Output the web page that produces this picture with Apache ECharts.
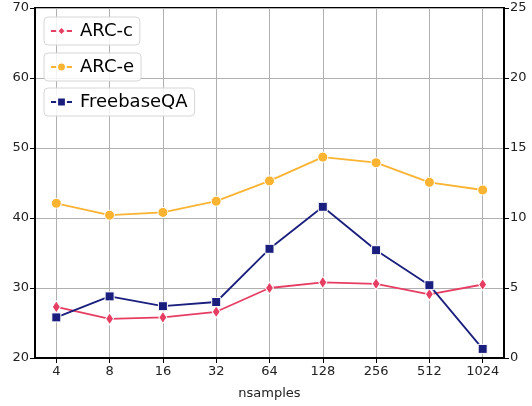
<!DOCTYPE html>
<html>
<head>
<meta charset="utf-8">
<script src="https://cdn.jsdelivr.net/npm/echarts@6/dist/echarts.min.js"></script>
<style>html,body{margin:0;padding:0;background:#fff}#c{width:532px;height:406px}</style>
</head>
<body>
<div id="c"></div>
<script>
const categories = ['4', '8', '16', '32', '64', '128', '256', '512', '1024'];
const arcC = [27.3, 25.6, 25.8, 26.6, 30.0, 30.8, 30.6, 29.1, 30.5];
const arcE = [42.1, 40.4, 40.8, 42.4, 45.3, 48.7, 47.9, 45.1, 44.0];
const freebaseQA = [2.9, 4.4, 3.7, 4.0, 7.8, 10.8, 7.7, 5.2, 0.65];
const leftTicks = [20, 30, 40, 50, 60, 70];
const rightTicks = [0, 5, 10, 15, 20, 25];

const idx = categories.map((_, i) => i);
const pairs = arr => arr.map((v, i) => [i, v]);
const font = 'DejaVu Sans';
const txt = '#222';

const chart = echarts.init(document.getElementById('c'), null, {renderer: 'canvas'});
function legend(name, top) {
  return {
    data: [name], left: 44, top: top, orient: 'vertical',
    itemWidth: 21, itemHeight: 11,
    padding: [5, 7, 5, 6],
    borderColor: '#d6d6d6', borderWidth: 1, borderRadius: 4,
    backgroundColor: 'rgba(255,255,255,0.85)',
    textStyle: {fontFamily: font, fontSize: 18, color: '#000', padding: [0, 0, 0, 3]}
  };
}
chart.setOption({
  animation: false,
  grid: {left: 35, right: 28, top: 8, bottom: 48, show: true, borderColor: '#000', borderWidth: 2, backgroundColor: 'transparent'},
  legend: [legend('ARC-c', 17), legend('ARC-e', 53), legend('FreebaseQA', 88)],
  xAxis: {
    type: 'value', min: -0.4, max: 8.4,
    name: 'nsamples', nameLocation: 'middle', nameGap: 29,
    nameTextStyle: {fontFamily: font, fontSize: 13, color: txt},
    axisLine: {show: true, onZero: false, lineStyle: {color: '#000', width: 2}},
    axisTick: {show: true, customValues: idx, length: 5, lineStyle: {color: '#000', width: 1}},
    axisLabel: {customValues: idx, formatter: v => categories[Math.round(v)], fontFamily: font, fontSize: 13, color: txt, margin: 7},
    splitLine: {show: true, lineStyle: {color: '#b0b0b0', width: 1}}
  },
  yAxis: [{
    type: 'value', min: leftTicks[0], max: leftTicks[leftTicks.length - 1], interval: 10,
    axisLine: {show: true, onZero: false, lineStyle: {color: '#000', width: 2}},
    axisTick: {show: true, length: 5, lineStyle: {color: '#000'}},
    axisLabel: {fontFamily: font, fontSize: 13, color: txt, margin: 6},
    splitLine: {show: true, lineStyle: {color: '#b0b0b0', width: 1}}
  }, {
    type: 'value', min: rightTicks[0], max: rightTicks[rightTicks.length - 1], interval: 5,
    position: 'right',
    axisLine: {show: true, onZero: false, lineStyle: {color: '#000', width: 2}},
    axisTick: {show: true, length: 5, lineStyle: {color: '#000'}},
    axisLabel: {fontFamily: font, fontSize: 13, color: txt, margin: 6},
    splitLine: {show: false}
  }],
  series: [{
    name: 'ARC-c', type: 'line', yAxisIndex: 0, data: pairs(arcC),
    symbol: 'path://M0,-10 L6,0 L0,10 L-6,0 Z', symbolSize: [8, 12],
    color: '#e63e62', lineStyle: {width: 1.8, color: '#e63e62'},
    itemStyle: {color: '#e63e62', borderColor: '#fff', borderWidth: 1}, z: 3
  }, {
    name: 'ARC-e', type: 'line', yAxisIndex: 0, data: pairs(arcE),
    symbol: 'circle', symbolSize: 10,
    color: '#fbb332', lineStyle: {width: 1.8, color: '#fbb332'},
    itemStyle: {color: '#fbb332', borderColor: '#fff', borderWidth: 1}, z: 3
  }, {
    name: 'FreebaseQA', type: 'line', yAxisIndex: 1, data: pairs(freebaseQA),
    symbol: 'rect', symbolSize: 9,
    color: '#1a1f7e', lineStyle: {width: 1.8, color: '#1a1f7e'},
    itemStyle: {color: '#1a1f7e', borderColor: '#fff', borderWidth: 1}, z: 3
  }]
});
</script>
</body>
</html>
